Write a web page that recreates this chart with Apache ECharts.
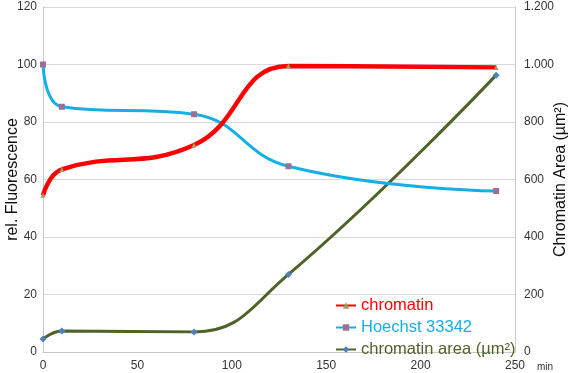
<!DOCTYPE html>
<html>
<head>
<meta charset="utf-8">
<script src="https://cdn.jsdelivr.net/npm/echarts@6/dist/echarts.min.js"></script>
<style>
  html, body { margin: 0; padding: 0; background: #fff; }
  #chart { width: 570px; height: 373px; }
</style>
</head>
<body>
<div id="chart"></div>
<script>
// time points (min)
var times = [0, 10, 80, 130, 240];
// rel. fluorescence (left axis)
var chromatin = [54.5, 63.5, 72, 99.5, 99];
var hoechst = [100, 85.3, 82.7, 64.6, 56];
// chromatin area in µm² (right axis)
var chromatinArea = [45, 73, 70, 270, 963];

var leftTicks = { min: 0, max: 120, interval: 20 };
var rightTicks = { min: 0, max: 1200, interval: 200 };

function pairs(ys) {
  return times.map(function (t, i) { return [t, ys[i]]; });
}

function fmtDot(v) {
  return String(v).replace(/\B(?=(\d{3})+(?!\d))/g, '.');
}

var chart = echarts.init(document.getElementById('chart'));
var FONT = 'Liberation Sans, Arial, sans-serif';

chart.setOption({
  animation: false,
  textStyle: { fontFamily: FONT },
  grid: { left: 43, right: 55, top: 7, bottom: 21, containLabel: false, outerBoundsMode: 'none' },
  legend: {
    orient: 'vertical',
    left: 330,
    top: 292,
    itemWidth: 20,
    itemHeight: 8,
    itemGap: 5,
    textStyle: { fontSize: 16.5, fontFamily: FONT },
    data: [
      { name: 'chromatin', textStyle: { color: '#ff0000' } },
      { name: 'Hoechst 33342', textStyle: { color: '#16aee6' } },
      { name: 'chromatin area (µm²)', textStyle: { color: '#4f6228' } }
    ]
  },
  xAxis: {
    type: 'value',
    min: 0, max: 250, interval: 50,
    name: 'min',
    nameLocation: 'end',
    nameGap: 22,
    nameMoveOverlap: false,
    nameTextStyle: { fontSize: 10, color: '#333', verticalAlign: 'top', padding: [10, 0, 0, 0] },
    axisLine: { show: true, lineStyle: { color: '#c8c8c8', width: 1 } },
    axisTick: { show: false },
    axisLabel: { color: '#333', fontSize: 12, margin: 8 },
    splitLine: { show: false }
  },
  yAxis: [{
    type: 'value',
    min: leftTicks.min, max: leftTicks.max, interval: leftTicks.interval,
    name: 'rel. Fluorescence',
    nameLocation: 'middle',
    nameGap: 22,
    nameMoveOverlap: false,
    nameTextStyle: { fontSize: 16, color: '#111' },
    axisLine: { show: true, lineStyle: { color: '#c8c8c8', width: 1 } },
    axisTick: { show: false },
    axisLabel: { color: '#333', fontSize: 12, margin: 6 },
    splitLine: { show: true, lineStyle: { color: '#d9d9d9', width: 1 } }
  }, {
    type: 'value',
    min: rightTicks.min, max: rightTicks.max, interval: rightTicks.interval,
    name: 'Chromatin Area (µm²)',
    nameLocation: 'middle',
    nameGap: 38,
    nameRotate: 90,
    nameMoveOverlap: false,
    nameTextStyle: { fontSize: 16, color: '#111' },
    axisLine: { show: true, lineStyle: { color: '#c8c8c8', width: 1 } },
    axisTick: { show: false },
    axisLabel: { color: '#333', fontSize: 12, margin: 9, formatter: fmtDot },
    splitLine: { show: false }
  }],
  series: [{
    name: 'chromatin',
    type: 'line',
    smooth: 0.45,
    data: pairs(chromatin),
    yAxisIndex: 0,
    symbol: 'triangle',
    symbolSize: 5,
    z: 4,
    lineStyle: { color: '#ff0000', width: 4.5 },
    itemStyle: { color: '#9aa060' }
  }, {
    name: 'Hoechst 33342',
    type: 'line',
    smooth: 0.45,
    data: pairs(hoechst),
    yAxisIndex: 0,
    symbol: 'rect',
    symbolSize: 6,
    z: 3,
    lineStyle: { color: '#16aee6', width: 3 },
    itemStyle: { color: '#9c6f97' }
  }, {
    name: 'chromatin area (µm²)',
    type: 'line',
    smooth: 0.45,
    data: pairs(chromatinArea),
    yAxisIndex: 1,
    symbol: 'diamond',
    symbolSize: 7,
    z: 2,
    lineStyle: { color: '#4f6228', width: 3 },
    itemStyle: { color: '#4f81bd' }
  }]
});
</script>
</body>
</html>
